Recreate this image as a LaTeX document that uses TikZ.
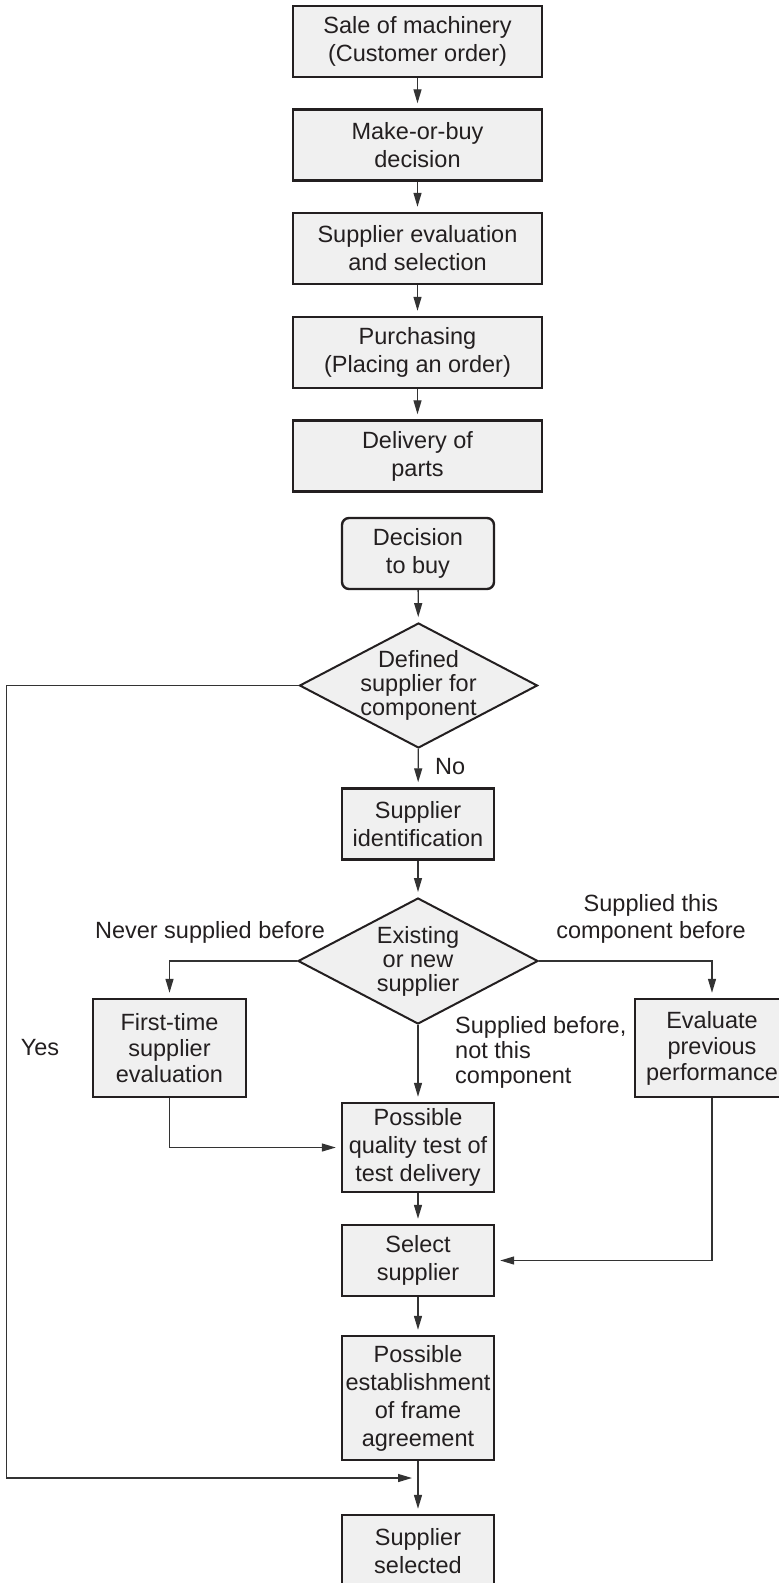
\documentclass[tikz,border=0pt]{standalone}
\usepackage{fontspec}
\setmainfont{Liberation Sans}
\usetikzlibrary{arrows.meta,shapes.geometric}

\definecolor{ink}{HTML}{231F20}
\definecolor{boxfill}{HTML}{F0F0F0}
\definecolor{wire}{HTML}{333333}

% text size with a chosen line spacing
\newcommand\txtsize[1]{\fontsize{23.5}{#1}\selectfont}

\tikzset{
  proc/.style={draw=ink, fill=boxfill, line width=2.4pt, text=ink,
    minimum width=249pt, minimum height=71pt, inner sep=0pt,
    align=center, font=\txtsize{28}},
  slim/.style={proc, minimum width=152pt},
  startbox/.style={slim, rounded corners=7pt},
  dia/.style={diamond, draw=ink, fill=boxfill, line width=2pt,
    inner sep=0pt, minimum width=238pt, minimum height=125pt},
  diatext/.style={align=center, text=ink, font=\txtsize{24}, inner sep=0pt},
  lbl/.style={text=ink, font=\txtsize{27}, inner sep=0pt},
  arr/.style={draw=wire, line width=1.3pt,
    -{Triangle[length=14pt,width=8pt]}, shorten >=5pt},
  wireline/.style={draw=wire, line width=1.3pt}
}

\begin{document}
\begin{tikzpicture}[x=1pt, y=-1pt]
\useasboundingbox (0,0) rectangle (779,1583);
\clip (0,0) rectangle (779,1583);

% upper process chain
\node[proc] (b1) at (417.5,41.5) {Sale of machinery\\(Customer order)};
\node[proc] (b2) at (417.5,145)  {Make-or-buy\\decision};
\node[proc] (b3) at (417.5,248.5) {Supplier evaluation\\and selection};
\node[proc] (b4) at (417.5,352.5) {Purchasing\\(Placing an order)};
\node[proc] (b5) at (417.5,456)  {Delivery of\\parts};

\draw[arr] (b1) -- (b2);
\draw[arr] (b2) -- (b3);
\draw[arr] (b3) -- (b4);
\draw[arr] (b4) -- (b5);

% supplier selection flow
\node[startbox] (dec) at (418,553.5) {Decision\\to buy};
\node[dia, label={[diatext]center:Defined\\supplier for\\component}] (d1) at (418.5,685.5) {};
\node[slim] (sid) at (418,824) {Supplier\\identification};
\node[dia, minimum width=240pt, minimum height=126pt,
      label={[diatext]center:Existing\\or new\\supplier}] (d2) at (418,961) {};
\node[slim, minimum width=153pt, minimum height=98pt, font=\txtsize{26}] (ft) at (169.5,1048) {First-time\\supplier\\evaluation};
\node[slim, minimum width=154pt, minimum height=98pt, font=\txtsize{26}] (ev) at (712,1048) {Evaluate\\previous\\performance};
\node[slim, minimum height=89pt] (pq) at (418,1147.5) {Possible\\quality test of\\test delivery};
\node[slim] (sel) at (418,1260.5) {Select\\supplier};
\node[slim, minimum height=124pt] (fr) at (418,1398) {Possible\\establishment\\of frame\\agreement};
\node[slim, minimum height=72pt] (ss) at (418,1551) {Supplier\\selected};

\coordinate (join) at (418,1478);

\draw[arr] (dec) -- (d1);
\draw[arr] (d1) -- (sid);
\draw[arr] (sid) -- (d2);
\draw[arr] (d2.west) -| (ft.north);
\draw[arr] (d2.east) -| (ev.north);
\draw[arr] (d2.south) -- (pq.north);
\draw[arr] (ft.south) |- (pq.west);
\draw[arr] (pq) -- (sel);
\draw[arr] (ev.south) |- (sel.east);
\draw[arr] (sel) -- (fr);
\draw[arr] (fr) -- (ss);
\draw[arr, shorten >=6pt] (d1.west) -- ++(-292,0) |- (join);

% branch labels
\node[lbl, anchor=west] (no) at (435,767) {No};
\node[lbl] (yes) at (40,1048) {Yes};
\node[lbl] (never) at (210,932) {Never supplied before};
\node[lbl, align=center] (same) at (651,918.5) {Supplied this\\component before};
\node[lbl, align=left, anchor=west, font=\txtsize{25}] (other) at (455,1052) {Supplied before,\\not this\\component};
\end{tikzpicture}
\end{document}
